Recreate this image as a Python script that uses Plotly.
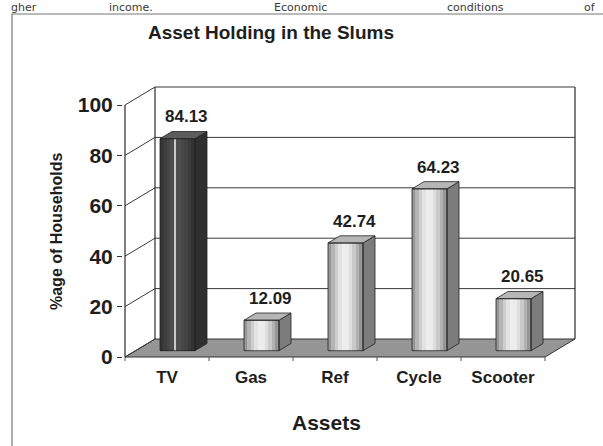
import plotly.graph_objects as go

# ---------------- data ----------------
categories = ["TV", "Gas", "Ref", "Cycle", "Scooter"]
values = [84.13, 12.09, 42.74, 64.23, 20.65]
value_labels = ["84.13", "12.09", "42.74", "64.23", "20.65"]
y_ticks = [0, 20, 40, 60, 80, 100]
title_text = "Asset Holding in the Slums"
x_title = "Assets"
y_title = "%age of Households"
page_words = ["gher", "income.", "Economic", "conditions", "of"]
page_word_px = [24, 131, 300, 475, 590]

# ---------------- geometry (pixel scale of the fake 3D chart) ----------------
W, H = 603, 446
ML, MR, MT, MB = 123, 26, 85, 81
PX_X = 84.0      # px per category slot
PX_Y = 2.52      # px per value unit
ZERO_PX = 357    # pixel row of value 0 on the front plane
X0 = -0.5 - 2 / PX_X
XR = [X0, X0 + (W - ML - MR) / PX_X]
YR = [(ZERO_PX - (H - MB)) / PX_Y, (ZERO_PX - MT) / PX_Y]
DX = 30 / PX_X   # depth offset in x units
DY = 18 / PX_Y   # depth offset in y units
D0, D1 = 0.35, 0.75
HW = 17.5 / PX_X
N = len(categories)
XL, XRt = -0.5, N - 0.5
VMAX = y_ticks[-1]

FONT = "Liberation Sans, Arial, sans-serif"
TXT = "#1e1e1e"
GRID = "#3a3a3a"

def px2paper_x(px):
    return (px - ML) / (W - ML - MR)

def px2paper_y(py):
    return (H - MB - py) / (H - MT - MB)

shapes = []
# floor
shapes.append(dict(type="path", xref="x", yref="y", layer="below",
                   path=f"M {XL},0 L {XRt},0 L {XRt+DX},{DY} L {XL+DX},{DY} Z",
                   fillcolor="#959595", line=dict(color="#333", width=1)))
# back wall gridlines
for v in y_ticks[1:]:
    shapes.append(dict(type="line", xref="x", yref="y", layer="below",
                       x0=XL + DX, y0=v + DY, x1=XRt + DX, y1=v + DY,
                       line=dict(color=GRID, width=1)))
# left wall diagonals
for v in y_ticks:
    shapes.append(dict(type="line", xref="x", yref="y", layer="below",
                       x0=XL, y0=v, x1=XL + DX, y1=v + DY,
                       line=dict(color=GRID, width=1)))
# wall vertical edges and front axis
for (xa, ya, xb, yb) in [(XL + DX, DY, XL + DX, VMAX + DY),
                         (XRt + DX, DY, XRt + DX, VMAX + DY),
                         (XL, 0, XL, VMAX)]:
    shapes.append(dict(type="line", xref="x", yref="y", layer="below",
                       x0=xa, y0=ya, x1=xb, y1=yb,
                       line=dict(color="#2a2a2a", width=1.2)))
# category boundary ticks on the floor front edge
for k in range(N + 1):
    shapes.append(dict(type="line", xref="x", yref="y", layer="below",
                       x0=XL + k, y0=0, x1=XL + k, y1=-1.6,
                       line=dict(color="#555", width=1)))
# outer frame of the scanned figure
shapes.append(dict(type="rect", xref="paper", yref="paper",
                   x0=px2paper_x(12), y0=px2paper_y(14),
                   x1=px2paper_x(620), y1=px2paper_y(470),
                   line=dict(color="#777", width=1.2), fillcolor="rgba(0,0,0,0)"))

fig = go.Figure()

# front faces as shaded strips (cylinder-like gradient)
K = 10
light = [150, 180, 206, 226, 238, 236, 222, 202, 178, 150]
dark = [52, 62, 70, 76, 80, 78, 72, 66, 58, 50]
sw = 2 * HW / K
for k in range(K):
    off = -HW + (k + 0.5) * sw
    cols = []
    for i in range(N):
        g = dark[k] if i == 0 else light[k]
        cols.append(f"rgb({g},{g},{g})")
    fig.add_trace(go.Bar(x=[i + DX * D0 + off for i in range(N)], y=values,
                         base=DY * D0, width=sw * 1.12,
                         marker=dict(color=cols, line=dict(width=0)),
                         hoverinfo="skip", showlegend=False))
# thin highlight line on the dark TV bar
fig.add_trace(go.Bar(x=[0 + DX * D0 - HW + 0.43 * 2 * HW], y=[values[0]],
                     base=DY * D0, width=1.6 / PX_X,
                     marker=dict(color="#c9c9c9", line=dict(width=0)),
                     hoverinfo="skip", showlegend=False))

for i, v in enumerate(values):
    fx0 = i + DX * D0 - HW
    fx1 = i + DX * D0 + HW
    bx1 = i + DX * D1 + HW
    bx0 = i + DX * D1 - HW
    y0 = DY * D0
    y1 = DY * D1
    side_col = "#2f2f2f" if i == 0 else "#7c7c7c"
    top_col = "#5c5c5c" if i == 0 else "#b6b6b6"
    # side face
    fig.add_trace(go.Scatter(x=[fx1, bx1, bx1, fx1, fx1],
                             y=[y0, y1, v + y1, v + y0, y0],
                             mode="lines", fill="toself", fillcolor=side_col,
                             line=dict(color="#222", width=0.8),
                             hoverinfo="skip", showlegend=False))
    # top face
    fig.add_trace(go.Scatter(x=[fx0, fx1, bx1, bx0, fx0],
                             y=[v + y0, v + y0, v + y1, v + y1, v + y0],
                             mode="lines", fill="toself", fillcolor=top_col,
                             line=dict(color="#222", width=0.8),
                             hoverinfo="skip", showlegend=False))
    # front outline
    fig.add_trace(go.Scatter(x=[fx0, fx1, fx1, fx0, fx0],
                             y=[y0, y0, v + y0, v + y0, y0],
                             mode="lines", line=dict(color="#222", width=0.8),
                             hoverinfo="skip", showlegend=False))

annotations = []
for i, (v, lab) in enumerate(zip(values, value_labels)):
    annotations.append(dict(x=i + DX * (D0 + D1) / 2 + 3 / PX_X, y=v + DY * D1,
                            xref="x", yref="y", text=lab, showarrow=False,
                            yanchor="bottom", yshift=3,
                            font=dict(family=FONT, size=17, color=TXT, weight="bold")))
# axis titles
annotations.append(dict(x=px2paper_x(326), y=px2paper_y(422), xref="paper", yref="paper",
                        text=x_title, showarrow=False, xanchor="center", yanchor="middle",
                        font=dict(family=FONT, size=21, color=TXT, weight="bold")))
annotations.append(dict(x=px2paper_x(56), y=px2paper_y(232), xref="paper", yref="paper",
                        text=y_title, showarrow=False, textangle=-90,
                        xanchor="center", yanchor="middle",
                        font=dict(family=FONT, size=16, color=TXT, weight="bold")))
# fragment of surrounding page text (above the figure frame)
for w, xp in zip(page_words, page_word_px):
    annotations.append(dict(x=px2paper_x(xp), y=px2paper_y(7), xref="paper", yref="paper",
                            text=w, showarrow=False, xanchor="center", yanchor="middle",
                            borderpad=0,
                            font=dict(family="DejaVu Sans", size=11, color="#3a3a3a")))

fig.update_layout(
    width=W, height=H, autosize=False,
    margin=dict(l=ML, r=MR, t=MT, b=MB, pad=0),
    paper_bgcolor="white", plot_bgcolor="white",
    barmode="overlay", bargap=0,
    shapes=shapes, annotations=annotations,
    title=dict(text=title_text, x=271 / W, xanchor="center", xref="container",
               y=1 - 32 / H, yanchor="middle",
               font=dict(family=FONT, size=19, color=TXT, weight="bold")),
    xaxis=dict(range=XR, showgrid=False, zeroline=False, showline=False,
               tickvals=list(range(N)), ticktext=categories, ticks="",
               tickfont=dict(family=FONT, size=17, color=TXT, weight="bold"),
               fixedrange=True),
    yaxis=dict(range=YR, showgrid=False, zeroline=False, showline=False,
               tickvals=y_ticks, ticks="outside", ticklen=5, tickcolor="#333",
               tickfont=dict(family=FONT, size=21, color=TXT, weight="bold"),
               fixedrange=True),
)

fig.write_html("out.html",
               config={"displayModeBar": False},
               post_script="document.body.style.margin='0';document.body.style.padding='0';")
